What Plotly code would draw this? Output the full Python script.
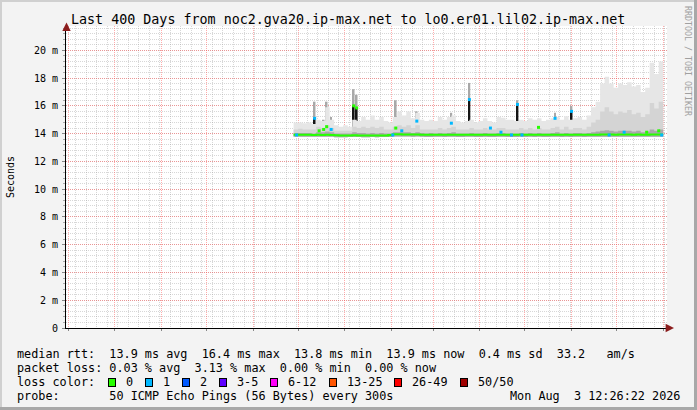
import pandas as pd
import plotly.graph_objects as go

# ---------------- data ----------------
TITLE = "Last 400 Days from noc2.gva20.ip-max.net to lo0.er01.lil02.ip-max.net"
X_START = "2025-06-29 12:26:22"
X_END = "2026-08-03 12:26:22"

SMOKE_START = "2025-11-28"
STEP = "3D"

SMOKE_MAX = [
    14.8, 14.8, 14.75, 14.8, 14.7,
    15.0, 14.9, 15.9, 15.0, 14.6,
    14.5, 14.6, 14.5, 15.0, 14.9,
    15.2, 15.0, 15.3, 15.0, 15.2,
    14.9, 14.8, 15.2, 15.6, 15.3,
    15.6, 15.1, 15.5, 15.0, 14.9,
    15.0, 14.9, 15.2, 15.0, 15.2,
    15.3, 14.9, 14.8, 14.9, 15.0,
    14.8, 14.9, 15.1, 14.9, 14.8,
    15.2, 15.15, 15.0, 15.0, 14.9,
    15.0, 14.9, 15.1, 15.0, 15.1,
    14.9, 15.0, 15.1, 15.2, 15.0,
    15.25, 15.0, 15.1, 15.2, 15.0,
    15.3, 15.9, 16.3, 17.6, 18.1,
    17.6, 17.3, 17.6, 17.5, 17.7,
    17.4, 17.5, 17.0, 17.3, 19.1,
    18.3, 19.2, 18.0,
]
SMOKE_MID = [
    14.3, 14.35, 14.3, 14.3, 14.3,
    14.5, 14.4, 14.6, 14.4, 14.2,
    14.2, 14.2, 14.2, 14.5, 14.4,
    14.5, 14.4, 14.5, 14.4, 14.5,
    14.3, 14.3, 14.5, 14.6, 14.5,
    14.6, 14.4, 14.6, 14.3, 14.3,
    14.3, 14.3, 14.4, 14.3, 14.4,
    14.5, 14.3, 14.3, 14.3, 14.4,
    14.3, 14.3, 14.4, 14.3, 14.3,
    14.4, 14.4, 14.3, 14.3, 14.3,
    14.4, 14.3, 14.4, 14.3, 14.4,
    14.3, 14.3, 14.4, 14.5, 14.3,
    14.5, 14.3, 14.4, 14.4, 14.3,
    14.5, 14.8, 15.0, 15.6, 15.9,
    15.6, 15.4, 15.6, 15.5, 15.7,
    15.4, 15.5, 15.2, 15.4, 16.2,
    15.8, 16.3, 15.8,
]
SMOKE_LOW = [
    14.05, 14.05, 14.05, 14.05, 14.0,
    14.1, 14.1, 14.15, 14.1, 14.0,
    14.0, 14.0, 14.0, 14.1, 14.05,
    14.05, 14.0, 14.05, 14.0, 14.05,
    14.0, 14.0, 14.1, 14.1, 14.1,
    14.1, 14.05, 14.1, 14.05, 14.0,
    14.05, 14.0, 14.05, 14.0, 14.05,
    14.1, 14.0, 14.0, 14.0, 14.05,
    14.0, 14.0, 14.05, 14.0, 14.0,
    14.05, 14.05, 14.0, 14.0, 14.0,
    14.05, 14.0, 14.05, 14.0, 14.05,
    14.0, 14.0, 14.05, 14.1, 14.0,
    14.05, 14.0, 14.05, 14.05, 14.0,
    14.05, 14.1, 14.15, 14.2, 14.25,
    14.2, 14.15, 14.2, 14.2, 14.2,
    14.15, 14.2, 14.1, 14.15, 14.3,
    14.2, 14.3, 14.2,
]
SMOKE_MIN = [
    13.78, 13.78, 13.77, 13.78, 13.77,
    13.78, 13.77, 13.78, 13.77, 13.74,
    13.74, 13.74, 13.75, 13.76, 13.75,
    13.74, 13.74, 13.75, 13.74, 13.75,
    13.75, 13.76, 13.8, 13.8, 13.8,
    13.79, 13.78, 13.79, 13.77, 13.76,
    13.76, 13.77, 13.77, 13.76, 13.77,
    13.77, 13.76, 13.76, 13.77, 13.77,
    13.76, 13.76, 13.77, 13.76, 13.76,
    13.77, 13.77, 13.76, 13.76, 13.76,
    13.77, 13.76, 13.77, 13.76, 13.77,
    13.76, 13.76, 13.77, 13.77, 13.76,
    13.77, 13.76, 13.77, 13.77, 13.76,
    13.77, 13.77, 13.77, 13.78, 13.78,
    13.78, 13.77, 13.78, 13.78, 13.78,
    13.77, 13.78, 13.77, 13.77, 13.78,
    13.78, 13.78, 13.78,
]
MEDIAN = [
    13.92, 13.92, 13.91, 13.92, 13.9,
    13.92, 13.9, 13.92, 13.9, 13.88,
    13.87, 13.87, 13.87, 13.88, 13.86,
    13.86, 13.86, 13.86, 13.86, 13.86,
    13.87, 13.9, 13.95, 13.95, 13.94,
    13.94, 13.93, 13.94, 13.92, 13.91,
    13.91, 13.92, 13.92, 13.91, 13.92,
    13.92, 13.91, 13.91, 13.92, 13.92,
    13.91, 13.91, 13.92, 13.91, 13.91,
    13.92, 13.92, 13.91, 13.91, 13.91,
    13.92, 13.91, 13.92, 13.91, 13.92,
    13.91, 13.91, 13.92, 13.92, 13.91,
    13.92, 13.91, 13.92, 13.92, 13.91,
    13.92, 13.92, 13.92, 13.93, 13.93,
    13.93, 13.92, 13.93, 13.93, 13.93,
    13.92, 13.93, 13.92, 13.92, 13.93,
    13.93, 13.93, 13.93,
]

# events: spikes of the median (black) with loss-coloured median marks
BASELINE = 13.88
EVENT_DATES = [
    "2025-11-30", "2025-12-12", "2025-12-15", "2025-12-18", "2025-12-20",
    "2025-12-23", "2026-01-07", "2026-01-09", "2026-02-02", "2026-02-04",
    "2026-02-08", "2026-02-18", "2026-03-13", "2026-03-25", "2026-04-08",
    "2026-04-15", "2026-04-22", "2026-04-26", "2026-04-29", "2026-05-10",
    "2026-05-21", "2026-06-01", "2026-06-26", "2026-07-06", "2026-07-21",
    "2026-07-29", "2026-07-31",
]
EVENT_TOP = [
    13.9, 15.1, 14.2, 14.3, 14.5,
    14.3, 16.0, 15.85, 13.9, 14.4,
    14.2, 14.9, 14.75, 16.45, 14.4,
    14.1, 13.9, 16.1, 13.9, 14.45,
    15.1, 15.6, 13.9, 14.1, 14.1,
    14.2, 13.9,
]
EVENT_SMOKE = [
    13.9, 16.3, 14.6, 15.0, 16.3,
    15.2, 17.2, 16.8, 13.9, 16.4,
    15.2, 15.6, 15.5, 17.65, 14.8,
    14.4, 13.9, 16.4, 13.9, 14.9,
    15.5, 16.0, 13.9, 14.6, 15.0,
    15.2, 13.9,
]
EVENT_LOSS = [
    1, 1, 0, 0, 0,
    1, 0, 0, 1, 0,
    1, 1, 1, 1, 1,
    1, 1, 1, 1, 0,
    1, 1, 1, 1, 0,
    0, 1,
]

Y_TICKS = [0, 2, 4, 6, 8, 10, 12, 14, 16, 18, 20]
Y_TEXT = ["0", "2 m", "4 m", "6 m", "8 m", "10 m", "12 m", "14 m", "16 m", "18 m", "20 m"]
Y_MAX = 21.75
X_LABEL_DATES = ["2025-07-16", "2025-09-16", "2025-11-16", "2026-01-16",
                 "2026-03-16", "2026-05-16", "2026-07-16"]
X_LABEL_TEXT = ["Jul 2025", "Sep 2025", "Nov 2025", "Jan 2026",
                "Mar 2026", "May 2026", "Jul 2026"]

LOSS_LABELS = ["0", "1", "2", "3-5", "6-12", "13-25", "26-49", "50/50"]
LOSS_COLORS = ["#26ff00", "#00b8ff", "#0059ff", "#5e00ff",
               "#ff00f9", "#ff5500", "#ff0000", "#a00000"]

LINE1 = "median rtt:  13.9 ms avg  16.4 ms max  13.8 ms min  13.9 ms now  0.4 ms sd  33.2   am/s"
LINE2 = "packet loss: 0.03 % avg  3.13 % max  0.00 % min  0.00 % now"
LINE3 = "loss color:"
LINE4 = "probe:       50 ICMP Echo Pings (56 Bytes) every 300s"
STAMP = "Mon Aug  3 12:26:22 2026"
WATERMARK = "RRDTOOL / TOBI OETIKER"

# ---------------- layout helpers ----------------
W, H = 697, 410
ML, MR, MT, MB = 66, 30, 26, 82
PW, PH = W - ML - MR, H - MT - MB
MONO = "DejaVu Sans Mono"


def px(x):
    return (x - ML) / PW


def py(y):
    return (H - MB - y) / PH


def nb(s):
    return s.replace(" ", "\u00a0")


dates = pd.date_range(SMOKE_START, periods=len(SMOKE_MAX), freq=STEP)
DAY_MS = 86400000

fig = go.Figure()


def band(top, color):
    fig.add_trace(go.Scatter(x=dates, y=SMOKE_MIN, mode="lines", line=dict(width=0, shape="hv"),
                             hoverinfo="skip", showlegend=False))
    fig.add_trace(go.Scatter(x=dates, y=top, mode="lines", line=dict(width=0, shape="hv"),
                             fill="tonexty", fillcolor=color, hoverinfo="skip", showlegend=False))


band(SMOKE_MAX, "#e6e6e6")
band(SMOKE_MID, "#d4d4d4")
band(SMOKE_LOW, "#a9a9a9")

fig.add_trace(go.Scatter(x=dates, y=MEDIAN, mode="lines",
                         line=dict(color=LOSS_COLORS[0], width=2.0, shape="hv"),
                         hoverinfo="skip", showlegend=False))

fig.add_trace(go.Bar(x=EVENT_DATES, y=[s - t for s, t in zip(EVENT_SMOKE, EVENT_TOP)], base=EVENT_TOP,
                     width=DAY_MS * 1.1, marker=dict(color="#a8a8a8", line=dict(width=0)),
                     hoverinfo="skip", showlegend=False))
fig.add_trace(go.Bar(x=EVENT_DATES, y=[t - BASELINE for t in EVENT_TOP], base=BASELINE,
                     width=DAY_MS * 1.2, marker=dict(color="#151515", line=dict(width=0)),
                     hoverinfo="skip", showlegend=False))
fig.add_trace(go.Scatter(x=EVENT_DATES, y=EVENT_TOP, mode="markers",
                         marker=dict(symbol="square", size=3,
                                     color=[LOSS_COLORS[l] for l in EVENT_LOSS], line=dict(width=0)),
                         hoverinfo="skip", showlegend=False))

RED_GRID = "rgba(255,70,70,0.45)"
GRAY_GRID = "rgba(150,150,150,0.38)"

fig.update_layout(
    template="none",
    width=W, height=H,
    margin=dict(l=ML, r=MR, t=MT, b=MB, pad=0, autoexpand=False),
    paper_bgcolor="#f3f3f3",
    plot_bgcolor="#ffffff",
    barmode="overlay",
    showlegend=False,
    font=dict(family=MONO, size=10, color="#000"),
    xaxis=dict(
        type="date", range=[X_START, X_END], automargin=False,
        showgrid=True, gridcolor=RED_GRID, griddash="1px,1px", gridwidth=1,
        dtick="M1", tick0="2025-07-01",
        showticklabels=False, ticks="outside", ticklen=2, tickcolor="#888",
        showline=True, linecolor="#000", linewidth=1, zeroline=False,
        minor=dict(dtick=7 * DAY_MS, tick0="2025-07-06", showgrid=True,
                   gridcolor=GRAY_GRID, griddash="1px,1px", ticks=""),
    ),
    xaxis2=dict(
        type="date", range=[X_START, X_END], overlaying="x", anchor="y", side="bottom",
        automargin=False,
        tickmode="array", tickvals=X_LABEL_DATES, ticktext=[nb(t) for t in X_LABEL_TEXT],
        showgrid=False, ticks="", showline=False, zeroline=False,
        tickfont=dict(family=MONO, size=10, color="#000"), ticklabelstandoff=3,
    ),
    yaxis=dict(
        range=[0, Y_MAX], tickmode="array", tickvals=Y_TICKS, ticktext=[nb(t) for t in Y_TEXT],
        automargin=False,
        showgrid=True, gridcolor=RED_GRID, griddash="1px,1px", gridwidth=1,
        ticks="outside", ticklen=3, tickcolor="#888",
        showline=True, linecolor="#000", linewidth=1, zeroline=False,
        tickfont=dict(family=MONO, size=10, color="#000"), ticklabelstandoff=2,
        minor=dict(dtick=0.4, tick0=0, showgrid=True, gridcolor=GRAY_GRID,
                   griddash="1px,1px", ticks="outside", ticklen=2, tickcolor="#aaa"),
    ),
)

ann = []
ann.append(dict(text=nb(TITLE), x=px(348), y=py(19), xref="paper", yref="paper",
                xanchor="center", yanchor="middle", showarrow=False,
                font=dict(family=MONO, size=13.35, color="#000")))
ann.append(dict(text="Seconds", x=px(10), y=py(177), xref="paper", yref="paper",
                xanchor="center", yanchor="middle", showarrow=False, textangle=-90,
                font=dict(family=MONO, size=10, color="#000")))
ann.append(dict(text=nb(WATERMARK), x=px(688), y=py(61), xref="paper", yref="paper",
                xanchor="center", yanchor="middle", showarrow=False, textangle=90,
                font=dict(family=MONO, size=8.3, color="#a0a0a0")))
# axis arrows
ann.append(dict(text="", x=px(674), y=py(328), xref="paper", yref="paper", showarrow=True,
                ax=-7, ay=0, arrowhead=2, arrowsize=1.4, arrowwidth=1.2, arrowcolor="#8b1c1c"))
ann.append(dict(text="", x=px(66.5), y=py(22.5), xref="paper", yref="paper", showarrow=True,
                ax=0, ay=6, arrowhead=2, arrowsize=1.4, arrowwidth=1.2, arrowcolor="#8b1c1c"))

LEG_SIZE = 11.8
CW = 7.12
LEG_X = 15
for txt, yy in [(LINE1, 354), (LINE2, 368), (LINE3, 382), (LINE4, 396)]:
    ann.append(dict(text=nb(txt), x=px(LEG_X), y=py(yy), xref="paper", yref="paper",
                    xanchor="left", yanchor="middle", showarrow=False,
                    font=dict(family=MONO, size=LEG_SIZE, color="#000")))
ann.append(dict(text=nb(STAMP), x=px(682), y=py(396), xref="paper", yref="paper",
                xanchor="right", yanchor="middle", showarrow=False,
                font=dict(family=MONO, size=LEG_SIZE, color="#000")))

cursor = LEG_X + 13 * CW
for lab, col in zip(LOSS_LABELS, LOSS_COLORS):
    ann.append(dict(text="\u00a0", x=px(cursor + 4), y=py(382), xref="paper", yref="paper",
                    xanchor="center", yanchor="middle", showarrow=False, width=6, height=7,
                    bgcolor=col, bordercolor="#000", borderwidth=1, borderpad=0,
                    font=dict(size=4)))
    ann.append(dict(text=nb(lab), x=px(cursor + 16), y=py(382), xref="paper", yref="paper",
                    xanchor="left", yanchor="middle", showarrow=False,
                    font=dict(family=MONO, size=LEG_SIZE, color="#000")))
    cursor = cursor + 16 + len(lab) * CW + 14

fig.update_layout(annotations=ann)

# image frame (3D-like border)
shapes = [
    dict(type="line", xref="paper", yref="paper", x0=px(0), x1=px(W), y0=py(1), y1=py(1),
         line=dict(color="#d0d0d0", width=2)),
    dict(type="line", xref="paper", yref="paper", x0=px(1), x1=px(1), y0=py(0), y1=py(H),
         line=dict(color="#d0d0d0", width=2)),
    dict(type="line", xref="paper", yref="paper", x0=px(0), x1=px(W), y0=py(H - 1.5), y1=py(H - 1.5),
         line=dict(color="#a8a8a8", width=3)),
    dict(type="line", xref="paper", yref="paper", x0=px(W - 1.5), x1=px(W - 1.5), y0=py(0), y1=py(H),
         line=dict(color="#a8a8a8", width=3)),
]
fig.update_layout(shapes=shapes)

fig.write_html("out.html", config={"displayModeBar": False},
               post_script="document.body.style.margin='0';document.body.style.overflow='hidden';")
